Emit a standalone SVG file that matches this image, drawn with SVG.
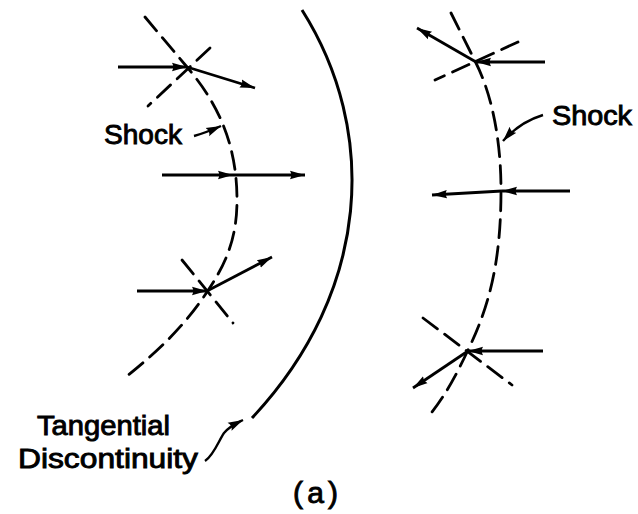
<svg xmlns="http://www.w3.org/2000/svg" width="638" height="514" viewBox="0 0 638 514">
<style>
.dash{fill:none;stroke:#000;stroke-width:2.8;stroke-dasharray:18 9;stroke-linecap:round}
.arr{fill:none;stroke:#000;stroke-width:2.8;marker-end:url(#ah)}
.ptr{fill:none;stroke:#000;stroke-width:2.4;marker-end:url(#ph)}
.solid{fill:none;stroke:#000;stroke-width:3}
text{font-family:"Liberation Sans",Arial,sans-serif;fill:#000;stroke:#000;stroke-width:0.9}
</style>
<defs>
<marker id="ah" markerUnits="userSpaceOnUse" markerWidth="18" markerHeight="12" refX="15" refY="5" orient="auto">
<path d="M0,0.8 L15,5 L0,9.2 Q2.5,5 0,0.8 Z" fill="#000"/>
</marker>
<marker id="ph" markerUnits="userSpaceOnUse" markerWidth="18" markerHeight="12" refX="15" refY="5" orient="auto">
<path d="M0,0.5 L15,5 L0,9.5 Q3.5,5 0,0.5 Z" fill="#000"/>
</marker>
</defs>
<g id="tangential-discontinuity">
<path class="solid" d="M302,10 C378,130 372,290 252,418"/>
</g>
<g id="left-shock">
<path class="dash" d="M145,17 L187,67 C215,100 237,140 237,200 C237,240 225,265 207,292 C185,325 160,350 122,380"/>
<path class="dash" d="M210,48 L148,106"/>
<path class="dash" d="M182,260 L233,323"/>
</g>
<g id="right-shock">
<path class="dash" d="M451,13 L476,63 C492,95 501,140 501,190 C501,260 490,305 468,350 C455,378 445,395 432,412"/>
<path class="dash" d="M518,42 L435,80"/>
<path class="dash" d="M423,318 L512,385"/>
</g>
<g id="connectors">
<path class="arr" d="M118,67 L187,67"/>
<path class="arr" d="M187,67 L255,88"/>
<path class="arr" d="M162,175 L233,175"/>
<path class="arr" d="M233,175 L305,175"/>
<path class="arr" d="M137,291 L207,291"/>
<path class="arr" d="M207,291 L272,257"/>
<path class="arr" d="M545,62 L476,62"/>
<path class="arr" d="M476,62 L417,28"/>
<path class="arr" d="M570,191 L502,191"/>
<path class="arr" d="M502,191 L432,195"/>
<path class="arr" d="M543,351 L468,351"/>
<path class="arr" d="M468,351 L413,388"/>
<path class="ptr" d="M194,136 Q205,133 221,126"/>
<path class="ptr" d="M543,115 Q520,122 503,141"/>
<path class="ptr" d="M205,461 C214,455 219,440 224,433 C230,426 235,424 243,420"/>
</g>
<g id="label-shock-left"><text x="104" y="144" font-size="27" textLength="78" lengthAdjust="spacingAndGlyphs">Shock</text></g>
<g id="label-shock-right"><text x="552" y="125" font-size="27" textLength="80" lengthAdjust="spacingAndGlyphs">Shock</text></g>
<g id="label-tangential">
<text x="37" y="435" font-size="27" textLength="133" lengthAdjust="spacingAndGlyphs">Tangential</text>
<text x="18" y="468" font-size="27" textLength="180" lengthAdjust="spacingAndGlyphs">Discontinuity</text>
</g>
<g id="label-a"><text x="293" y="503" font-size="30" textLength="45" lengthAdjust="spacing">(a)</text></g>
</svg>
